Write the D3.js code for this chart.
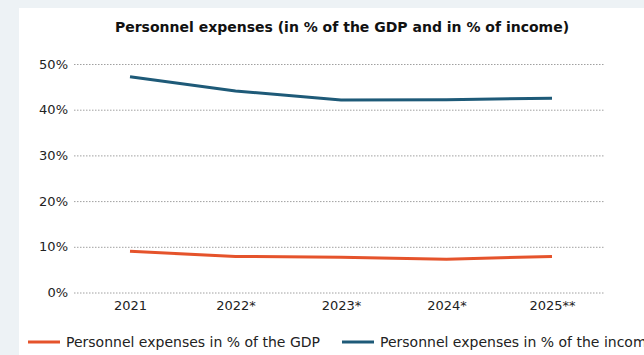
<!DOCTYPE html>
<html><head><meta charset="utf-8">
<script src="https://cdn.jsdelivr.net/npm/d3@7"></script>
<style>
html,body{margin:0;padding:0;background:#edf2f5;}
svg{display:block;}
</style></head>
<body>
<svg id="c" width="644" height="355"></svg>
<script>
const categories = ["2021", "2022*", "2023*", "2024*", "2025**"];
const gdpValues = [9.0, 7.9, 7.7, 7.3, 7.9];
const incomeValues = [47.2, 44.1, 42.1, 42.2, 42.5];
const yTicks = [0, 10, 20, 30, 40, 50];
const seriesNames = ["Personnel expenses in % of the GDP", "Personnel expenses in % of the income"];
const seriesColors = ["#e5532b", "#1e5a78"];
const title = "Personnel expenses (in % of the GDP and in % of income)";

const svg = d3.select("#c");
const font = "DejaVu Sans, Verdana, sans-serif";

svg.append("rect").attr("x", 19).attr("y", 8).attr("width", 625).attr("height", 347).attr("fill", "#fff");

svg.append("text").attr("x", 342).attr("y", 32).attr("text-anchor", "middle")
  .attr("font-family", font).attr("font-weight", "bold")
  .attr("font-size", 14).attr("fill", "#111").text(title);

const x = d3.scalePoint().domain(categories).range([130, 552]);
const y = d3.scaleLinear().domain([0, 50]).range([292.5, 64]);

const gy = svg.append("g").attr("transform", "translate(74,0)")
  .call(d3.axisLeft(y).tickValues(yTicks).tickFormat(d => d + "%").tickSize(-530).tickPadding(6));
gy.select(".domain").remove();
gy.selectAll(".tick line").attr("stroke", "#a0a0a0").attr("stroke-dasharray", "1.5,1.5");
gy.selectAll(".tick text").attr("font-family", font).attr("font-size", 13).attr("fill", "#222");

const gx = svg.append("g").attr("transform", "translate(0,297)")
  .call(d3.axisBottom(x).tickSize(0).tickPadding(4));
gx.select(".domain").remove();
gx.selectAll(".tick text").attr("font-family", font).attr("font-size", 13).attr("fill", "#222");

const line = d3.line().x((d, i) => x(categories[i])).y(d => y(d));
[gdpValues, incomeValues].forEach((vals, k) => {
  svg.append("path").datum(vals).attr("d", line).attr("fill", "none")
    .attr("stroke", seriesColors[k]).attr("stroke-width", 3);
});

const legendX = [28, 342];
seriesNames.forEach((name, k) => {
  const g = svg.append("g").attr("transform", `translate(${legendX[k]},342)`);
  g.append("line").attr("x1", 0).attr("x2", 32).attr("stroke", seriesColors[k]).attr("stroke-width", 3);
  g.append("text").attr("x", 38).attr("y", 5).attr("font-family", font).attr("font-size", 14)
    .attr("fill", "#222").text(name);
});
</script>
</body></html>
